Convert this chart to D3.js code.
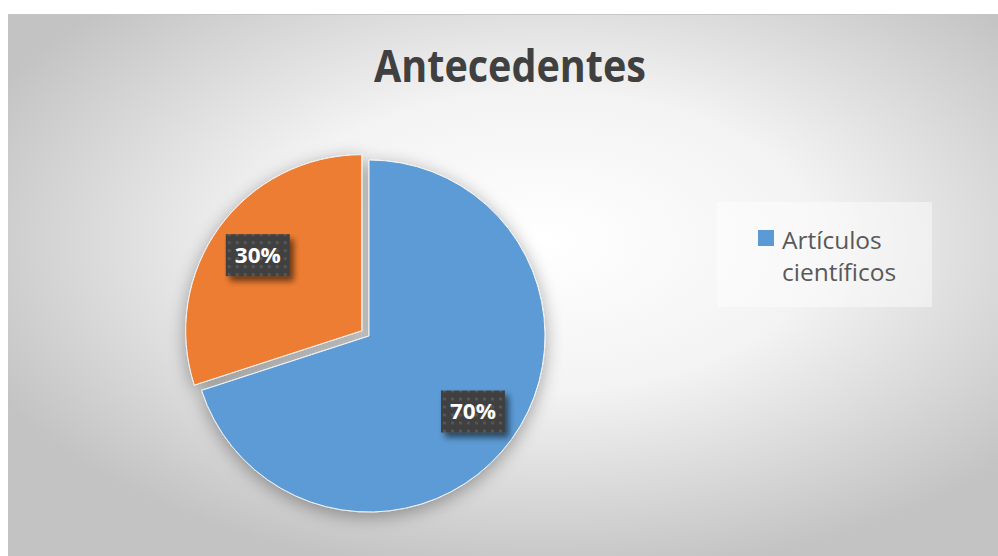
<!DOCTYPE html>
<html>
<head>
<meta charset="utf-8">
<script src="https://cdn.jsdelivr.net/npm/d3@7"></script>
<style>
  body { margin: 0; background: #fff; }
  svg { display: block; }
</style>
</head>
<body>
<svg id="chart" width="998" height="556"></svg>
<script>
// data
var categories = ["Artículos científicos", ""];
var values = [70, 30];
var colors = ["#5b9bd5", "#ed7d31"];
var title = "Antecedentes";

var w = 998, h = 556;
var svg = d3.select("#chart");
var defs = svg.append("defs");

// background gradient (white centre, grey edges)
var bg = defs.append("radialGradient").attr("id", "bgGrad")
  .attr("cx", "54%").attr("cy", "42%").attr("r", "62%");
bg.append("stop").attr("offset", "0%").attr("stop-color", "#ffffff");
bg.append("stop").attr("offset", "45%").attr("stop-color", "#f3f3f3");
bg.append("stop").attr("offset", "100%").attr("stop-color", "#c3c3c3");

// soft shadow for the pie
var sh = defs.append("filter").attr("id", "pieShadow")
  .attr("x", "-30%").attr("y", "-30%").attr("width", "160%").attr("height", "160%");
sh.append("feGaussianBlur").attr("in", "SourceAlpha").attr("stdDeviation", 9).attr("result", "b");
sh.append("feOffset").attr("in", "b").attr("dx", 0).attr("dy", 4).attr("result", "o");
sh.append("feComponentTransfer").attr("in", "o").attr("result", "s")
  .append("feFuncA").attr("type", "linear").attr("slope", 0.35);
var m = sh.append("feMerge");
m.append("feMergeNode").attr("in", "s");
m.append("feMergeNode").attr("in", "SourceGraphic");

// small shadow for the label boxes
var ls = defs.append("filter").attr("id", "lblShadow")
  .attr("x", "-30%").attr("y", "-30%").attr("width", "170%").attr("height", "180%");
ls.append("feGaussianBlur").attr("in", "SourceAlpha").attr("stdDeviation", 3).attr("result", "b");
ls.append("feOffset").attr("in", "b").attr("dx", 4).attr("dy", 5).attr("result", "o");
ls.append("feComponentTransfer").attr("in", "o").attr("result", "s")
  .append("feFuncA").attr("type", "linear").attr("slope", 0.55);
var m2 = ls.append("feMerge");
m2.append("feMergeNode").attr("in", "s");
m2.append("feMergeNode").attr("in", "SourceGraphic");

// dotted dark pattern for the labels
var pat = defs.append("pattern").attr("id", "dots")
  .attr("width", 8).attr("height", 8).attr("patternUnits", "userSpaceOnUse");
pat.append("rect").attr("width", 8).attr("height", 8).attr("fill", "#404040");
pat.append("rect").attr("x", 2).attr("y", 2).attr("width", 3).attr("height", 3).attr("fill", "#555555");

// chart area
svg.append("rect").attr("x", 8).attr("y", 14).attr("width", w - 8).attr("height", h - 14)
   .attr("fill", "url(#bgGrad)");
svg.append("line").attr("x1", 8).attr("x2", w).attr("y1", 14.5).attr("y2", 14.5)
   .attr("stroke", "#c6c6c6");

// title
svg.append("text")
   .attr("x", 510).attr("y", 82)
   .attr("text-anchor", "middle")
   .attr("font-family", "'Open Sans', 'Noto Sans', sans-serif")
   .attr("font-weight", "bold")
   .attr("font-size", 44)
   .attr("fill", "#404040")
   .attr("textLength", 272).attr("lengthAdjust", "spacingAndGlyphs")
   .text(title);

// pie
var cx = 369, cy = 336, r = 176;
var pie = d3.pie().sort(null).value(function(d) { return d; });
var arcs = pie(values);
var arc = d3.arc().innerRadius(0).outerRadius(r);
var explode = [0, 9];

var g = svg.append("g").attr("transform", "translate(" + cx + "," + cy + ")")
  .attr("filter", "url(#pieShadow)");

var slices = g.selectAll(".slice").data(arcs).enter().append("g")
  .attr("class", "slice")
  .attr("transform", function(d, i) {
    var a = (d.startAngle + d.endAngle) / 2;
    return "translate(" + (Math.sin(a) * explode[i]) + "," + (-Math.cos(a) * explode[i]) + ")";
  });

slices.append("path")
  .attr("d", arc)
  .attr("fill", function(d, i) { return colors[i]; })
  .attr("stroke", "#f4f4f4")
  .attr("stroke-width", 1);

// data labels
var total = d3.sum(values);
var lblArc = d3.arc().innerRadius(r * 0.73).outerRadius(r * 0.73);
var labels = svg.append("g").attr("transform", "translate(" + cx + "," + cy + ")")
  .selectAll(".lbl").data(arcs).enter().append("g")
  .attr("class", "lbl")
  .attr("transform", function(d, i) {
    var a = (d.startAngle + d.endAngle) / 2;
    var c = lblArc.centroid(d);
    return "translate(" + (c[0] + Math.sin(a) * explode[i]) + "," + (c[1] - Math.cos(a) * explode[i]) + ")";
  });

labels.append("rect")
  .attr("x", -32).attr("y", -21).attr("width", 64).attr("height", 42)
  .attr("fill", "url(#dots)")
  .attr("filter", "url(#lblShadow)");

labels.append("text")
  .attr("text-anchor", "middle")
  .attr("dy", "0.36em")
  .attr("font-family", "'Open Sans', 'Noto Sans', sans-serif")
  .attr("font-weight", "bold")
  .attr("font-size", 22)
  .attr("fill", "#ffffff")
  .attr("textLength", 46).attr("lengthAdjust", "spacingAndGlyphs")
  .text(function(d) { return Math.round(d.value / total * 100) + "%"; });

// legend (only named categories)
var legendItems = categories.map(function(c, i) { return { name: c, color: colors[i] }; })
  .filter(function(d) { return d.name !== ""; });

var lg = svg.append("g").attr("transform", "translate(717,202)");
lg.append("rect").attr("width", 215).attr("height", 105)
  .attr("fill", "#ffffff").attr("fill-opacity", 0.45);

legendItems.forEach(function(d, i) {
  lg.append("rect").attr("x", 41).attr("y", 28).attr("width", 16).attr("height", 16)
    .attr("fill", d.color);
  var words = d.name.split(" ");
  var t = lg.append("text")
    .attr("font-family", "'Open Sans', 'Noto Sans', sans-serif")
    .attr("font-size", 24.5)
    .attr("fill", "#595959");
  words.forEach(function(wd, j) {
    t.append("tspan").attr("x", 65).attr("y", 47 + j * 32).text(wd);
  });
});
</script>
</body>
</html>
